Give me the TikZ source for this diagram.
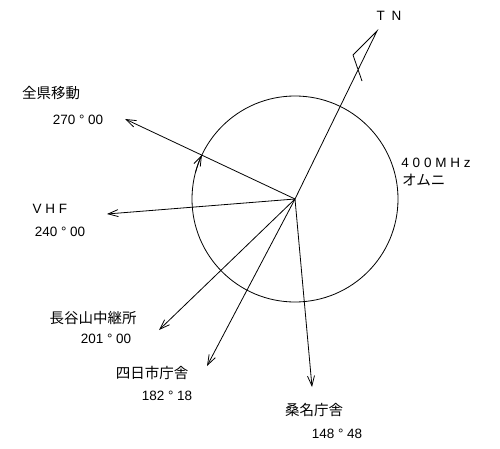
\documentclass[tikz,border=0pt]{standalone}
\usepackage{fontspec}
\setmainfont{Liberation Sans}
\newfontfamily\jp{Noto Sans CJK JP}
\usetikzlibrary{arrows.meta}

\tikzset{
  beam/.style={line width=0.8pt, -{Straight Barb[length=10pt,width=7pt]}},
  lbl/.style={inner sep=0pt, font=\fontsize{13.5}{15}\selectfont},
  jlbl/.style={inner sep=0pt, font=\jp\fontsize{14.5}{16}\selectfont},
}

\begin{document}
\begin{tikzpicture}[x=1pt,y=-1pt]
            \useasboundingbox (0,0) rectangle (500,449);

            % antenna pattern
            \coordinate (c) at (295,199);
            \draw[line width=0.8pt] (c) circle (103);

            % true north
            \coordinate (tn) at (377,31);
            \draw[line width=0.8pt] (c) -- (tn) -- (353,55) -- (362,81);
            \node[lbl] (tnlbl) at (389,16) {T\hspace{0.5em}N};

            % directions
            \coordinate (zen) at (125,119);
            \coordinate (vhf) at (107,214);
            \coordinate (hase) at (159,330);
            \coordinate (yokk) at (207,366);
            \coordinate (kuwa) at (312,387);
            \draw[beam] (c) -- (zen);
            \draw[beam] (c) -- (vhf);
            \draw[beam] (c) -- (hase);
            \draw[beam] (c) -- (yokk);
            \draw[beam] (c) -- (kuwa);

            % rotation mark on the circle
            \draw[beam] ([shift={(195:103)}]c) arc[start angle=195, end angle=205.3, radius=103];

            \node[jlbl] (zenname) at (51,93) {全県移動};
            \node[lbl] (zendeg) at (78,120) {270 ° 00};
            \node[lbl] (vhfname) at (50,209) {V H F};
            \node[lbl] (vhfdeg) at (60,232) {240 ° 00};
            \node[jlbl] (hasename) at (93,318) {長谷山中継所};
            \node[lbl] (hasedeg) at (106,339) {201 ° 00};
            \node[jlbl] (yokkname) at (152,373) {四日市庁舎};
            \node[lbl] (yokkdeg) at (167,396) {182 ° 18};
            \node[jlbl] (kuwaname) at (314,410) {桑名庁舎};
            \node[lbl] (kuwadeg) at (337,434) {148 ° 48};
            \node[lbl] (omnifreq) at (436,163) {4 0 0 M H z};
            \node[jlbl, anchor=west] (omni) at (402,180) {オムニ};
\end{tikzpicture}
\end{document}
